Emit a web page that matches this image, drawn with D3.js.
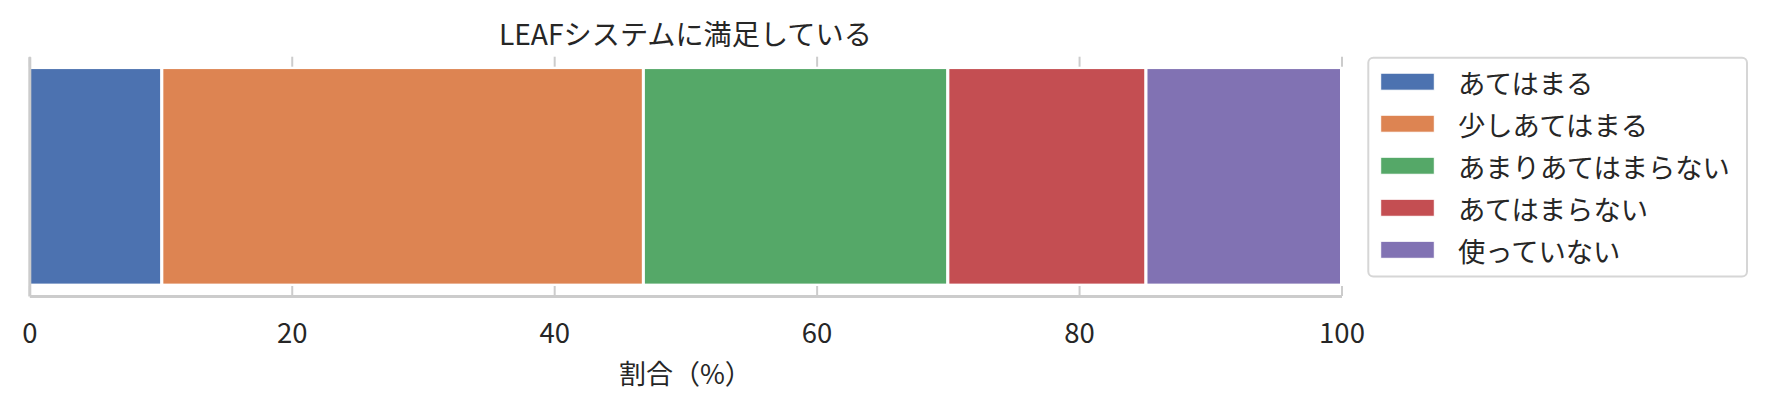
<!DOCTYPE html>
<html>
<head>
<meta charset="utf-8">
<script src="https://cdn.jsdelivr.net/npm/d3@7"></script>
<style>
  html, body { margin: 0; padding: 0; background: #ffffff; }
  svg { display: block; }
  text { font-family: "Noto Sans CJK JP", "Noto Sans", sans-serif; fill: #262626; }
</style>
</head>
<body>
<script>
// ---- data ----
const title = "LEAFシステムに満足している";
const xLabel = "割合（%）";
const categories = ["あてはまる", "少しあてはまる", "あまりあてはまらない", "あてはまらない", "使っていない"];
const values = [10.1, 36.7, 23.2, 15.1, 14.9];
const colors = ["#4c72b0", "#dd8452", "#55a868", "#c44e52", "#8172b3"];
const xTicks = [0, 20, 40, 60, 80, 100];

// ---- layout ----
const W = 1765, H = 409;
const plot = { left: 29.3, right: 1341.5, top: 56.7, bottom: 296 };

const svg = d3.select("body").append("svg").attr("width", W).attr("height", H);

const x = d3.scaleLinear().domain([0, 100]).range([plot.left, plot.right]);
const y = d3.scaleLinear().domain([-0.44, 0.44]).range([plot.bottom, plot.top]);

// stacked segments
let acc = 0;
const segs = values.map((v, i) => { const s = { start: acc, end: acc + v, color: colors[i], name: categories[i] }; acc += v; return s; });

svg.append("g").selectAll("rect").data(segs).join("rect")
  .attr("x", d => x(d.start))
  .attr("width", d => x(d.end) - x(d.start))
  .attr("y", y(0.4))
  .attr("height", y(-0.4) - y(0.4))
  .attr("fill", d => d.color)
  .attr("stroke", "#ffffff")
  .attr("stroke-width", 3);

// axes: bottom with inward ticks, top ticks inward (no labels)
const axisColor = "#cccccc";
const bottomAxis = d3.axisBottom(x).tickValues(xTicks).tickSizeInner(-10).tickSizeOuter(0).tickPadding(27).tickFormat(d3.format("d"));
const gB = svg.append("g").attr("transform", `translate(0,${plot.bottom})`).call(bottomAxis);
gB.select(".domain").attr("stroke", axisColor).attr("stroke-width", 3);
gB.selectAll(".tick line").attr("stroke", axisColor).attr("stroke-width", 2);
gB.selectAll(".tick text").attr("font-size", 27.5).attr("fill", "#262626")
  .attr("font-family", "'Noto Sans CJK JP', sans-serif");

const topAxis = d3.axisTop(x).tickValues(xTicks).tickSizeInner(-10).tickSizeOuter(0).tickFormat("");
const gT = svg.append("g").attr("transform", `translate(0,${plot.top})`).call(topAxis);
gT.select(".domain").remove();
gT.selectAll(".tick line").attr("stroke", axisColor).attr("stroke-width", 2);

// left spine
const gL = svg.append("g").attr("transform", `translate(${plot.left},0)`)
  .call(d3.axisLeft(y).tickValues([]).tickSizeOuter(0));
gL.select(".domain").attr("stroke", axisColor).attr("stroke-width", 3);

// title
svg.append("text")
  .attr("x", (plot.left + plot.right) / 2)
  .attr("y", 32)
  .attr("text-anchor", "middle")
  .attr("dominant-baseline", "central")
  .attr("font-size", 28.2)
  .text(title);

// x label
svg.append("text")
  .attr("x", (plot.left + plot.right) / 2)
  .attr("y", 372)
  .attr("text-anchor", "middle")
  .attr("dominant-baseline", "central")
  .attr("font-size", 27)
  .text(xLabel);

// legend
const leg = svg.append("g");
leg.append("rect")
  .attr("x", 1368.3).attr("y", 57.8)
  .attr("width", 1747 - 1368.3).attr("height", 276.5 - 57.8)
  .attr("rx", 5).attr("ry", 5)
  .attr("fill", "#ffffff").attr("stroke", "#d6d6d6").attr("stroke-width", 2);

const rowY = d3.scaleLinear().domain([0, categories.length - 1]).range([81.7, 249.8]);
const items = leg.selectAll("g.item").data(segs).join("g").attr("class", "item")
  .attr("transform", (d, i) => `translate(0,${rowY(i)})`);
items.append("rect")
  .attr("x", 1380.7).attr("y", -8.5).attr("width", 53.6).attr("height", 17)
  .attr("fill", d => d.color).attr("stroke", "#ffffff").attr("stroke-width", 1);
items.append("text")
  .attr("x", 1458).attr("y", 0)
  .attr("dominant-baseline", "central")
  .attr("font-size", 27.3)
  .text(d => d.name);
</script>
</body>
</html>
